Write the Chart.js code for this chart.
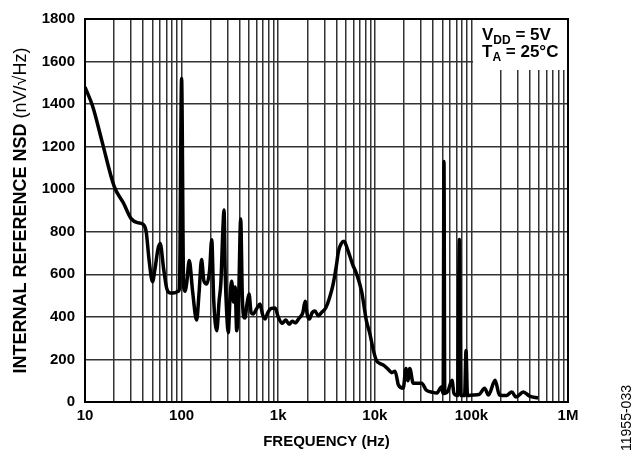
<!DOCTYPE html>
<html><head><meta charset="utf-8">
<script src="https://cdn.jsdelivr.net/npm/chart.js@4.4.0/dist/chart.umd.min.js"></script>
<style>html,body{margin:0;padding:0;background:#fff}#wrap{width:637px;height:459px}</style>
</head><body><div id="wrap"><canvas id="c" width="637" height="459"></canvas></div>
<script>
const frequencyHz = [10,12,15,20,25,30,35,40,43,46,50,53,57,60,65,70,76,85,92,95,100,105,109,113,120,130,143,152,161,170,182,195,205,215,231,245,255,268,275,283,293,304,318,330,345,358,372,390,409,425,440,453,475,499,525,552,600,648,690,730,780,850,930,1000,1100,1200,1300,1400,1500,1650,1800,1900,2000,2100,2250,2400,2600,2800,3100,3400,3700,4000,4200,4500,4800,5200,5900,6500,7300,8200,8900,9700,10400,11300,12400,14000,15000,16200,17600,19700,21000,22000,23000,25000,30600,34000,40000,43700,49000,51000,52000,53000,57000,63000,66000,72000,75000,78000,85000,88000,91000,105000,120000,137000,150000,176000,195000,230000,262000,290000,345000,400000,490000];
const nsdValues = [1480,1390,1225,1015,935,862,843,835,800,670,565,625,720,745,630,535,512,513,520,535,1520,540,520,560,665,520,385,520,670,570,555,620,763,480,335,480,560,820,902,600,420,326,500,567,470,540,335,500,860,500,400,395,460,507,420,414,440,460,410,390,420,440,442,400,370,385,365,380,372,395,420,474,410,390,420,428,405,420,442,490,553,640,707,745,755,720,646,600,520,380,320,240,195,181,172,150,138,145,79,65,158,100,158,88,88,56,45,42,70,40,1130,40,50,102,40,30,764,30,30,242,30,33,35,65,33,102,33,30,47,23,47,28,19];
const xMajorTicks = [10,100,1000,10000,100000,1000000];
const xMajorLabels = ['10','100','1k','10k','100k','1M'];
const yTicks = [0,200,400,600,800,1000,1200,1400,1600,1800];
const yTitleBold = 'INTERNAL REFERENCE NSD ';
const yTitleUnit = '(nV/\u221AHz)';
const xTitle = 'FREQUENCY (Hz)';
const figureId = '11955-033';
const condLines = [['V','DD',' = 5V'],['T','A',' = 25\u00B0C']];

const FONT = '"Liberation Sans", Arial, Helvetica, sans-serif';

const decorPlugin = {
  id: 'decor',
  afterDraw(chart) {
    const ctx = chart.ctx, ca = chart.chartArea;
    ctx.save();
    // condition box
    ctx.fillStyle = '#fff';
    ctx.fillRect(ca.right - 95, ca.top, 95, 51);
    ctx.fillStyle = '#000';
    ctx.textBaseline = 'alphabetic';
    ctx.textAlign = 'left';
    const baseY = [ca.top + 21, ca.top + 38];
    condLines.forEach((ln, i) => {
      let x = ca.right - 86;
      ctx.font = 'bold 17px ' + FONT;
      ctx.fillText(ln[0], x, baseY[i]); x += ctx.measureText(ln[0]).width;
      ctx.font = 'bold 12px ' + FONT;
      ctx.fillText(ln[1], x, baseY[i] + 4); x += ctx.measureText(ln[1]).width;
      ctx.font = 'bold 17px ' + FONT;
      ctx.fillText(ln[2], x, baseY[i]);
    });
    // frame
    ctx.strokeStyle = '#000';
    ctx.lineWidth = 2;
    ctx.strokeRect(ca.left, ca.top, ca.right - ca.left, ca.bottom - ca.top);
    // y title
    ctx.save();
    ctx.translate(21, (ca.top + ca.bottom) / 2);
    ctx.rotate(-Math.PI / 2);
    ctx.textBaseline = 'middle';
    ctx.font = 'bold 18px ' + FONT;
    const w1 = ctx.measureText(yTitleBold).width;
    ctx.font = '18px ' + FONT;
    const w2 = ctx.measureText(yTitleUnit).width;
    let sx = -(w1 + w2) / 2;
    ctx.font = 'bold 18px ' + FONT;
    ctx.fillText(yTitleBold, sx, 0);
    ctx.font = '18px ' + FONT;
    ctx.fillText(yTitleUnit, sx + w1, 0);
    ctx.restore();
    // figure id
    ctx.save();
    ctx.translate(627, 418);
    ctx.rotate(-Math.PI / 2);
    ctx.textAlign = 'center';
    ctx.textBaseline = 'middle';
    ctx.font = '14px ' + FONT;
    ctx.fillText(figureId, 0, 0);
    ctx.restore();
    ctx.restore();
  }
};

const points = frequencyHz.map((f, i) => ({x: f, y: nsdValues[i]}));

new Chart(document.getElementById('c'), {
  type: 'line',
  data: { datasets: [{ data: points, borderColor: '#000', borderWidth: 3.5, pointRadius: 0, fill: false, cubicInterpolationMode: 'monotone' }] },
  options: {
    responsive: false, animation: false, devicePixelRatio: 1,
    layout: { padding: { top: 15, right: 69, left: 0, bottom: 0 } },
    plugins: { legend: { display: false }, tooltip: { enabled: false } },
    scales: {
      x: {
        type: 'logarithmic', min: 10, max: 1000000,
        afterBuildTicks(scale) {
          const t = [];
          for (let d = 0; d < xMajorTicks.length - 1; d++) for (let k = 1; k <= 9; k++) t.push(xMajorTicks[d] * k);
          t.push(xMajorTicks[xMajorTicks.length - 1]);
          scale.ticks = t.map(v => ({ value: v }));
        },
        afterFit(scale) { scale.height = 57; },
        ticks: {
          autoSkip: false, maxRotation: 0, minRotation: 0, padding: 5, color: '#000',
          font: { family: FONT, size: 15, weight: 'bold' },
          callback(v) { const i = xMajorTicks.indexOf(v); return i >= 0 ? xMajorLabels[i] : ''; }
        },
        grid: { color: '#333', lineWidth: 1.5, drawTicks: false },
        border: { display: false },
        title: { display: true, text: xTitle, color: '#000', font: { family: FONT, size: 15, weight: 'bold' }, padding: { top: 4, bottom: 8 } }
      },
      y: {
        min: 0, max: 1800,
        afterBuildTicks(scale) { scale.ticks = yTicks.map(v => ({ value: v })); },
        afterFit(scale) { scale.width = 85; },
        ticks: { padding: 10, color: '#000', font: { family: FONT, size: 15, weight: 'bold' }, callback: v => String(v) },
        grid: { color: '#333', lineWidth: 1.5, drawTicks: false },
        border: { display: false }
      }
    }
  },
  plugins: [decorPlugin]
});
</script></body></html>
